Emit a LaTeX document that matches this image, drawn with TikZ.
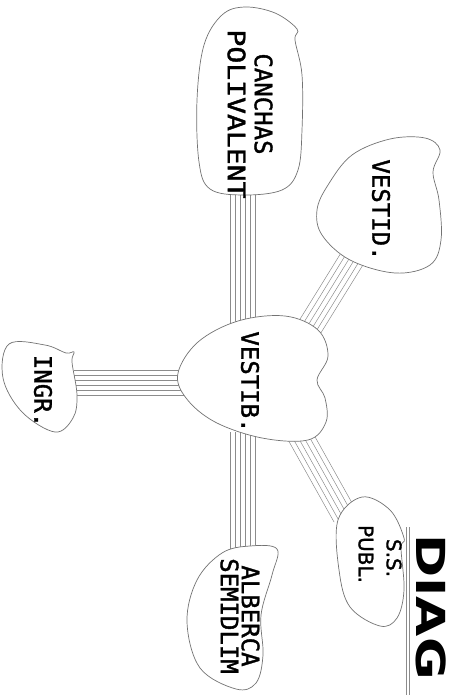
\documentclass[tikz,border=0pt]{standalone}
\usepackage{fontspec}
\usepackage{graphicx}
\setsansfont{DejaVu Sans}
\newfontfamily\plotfont{DejaVu Sans Mono}[FakeBold=1.5]
\newfontfamily\plotsans{DejaVu Sans}[FakeBold=1.5]
\usetikzlibrary{calc}
\tikzset{
  blob/.style={draw=black!55, fill=white, line width=0.7pt},
  wire/.style={draw=black!45, line width=0.5pt},
  lbl/.style={rotate=-90, inner sep=0pt, align=center, font=\plotfont\fontsize{24}{27}\selectfont},
}
\begin{document}
\begin{tikzpicture}[x=1pt,y=-1pt]
\useasboundingbox (0,0) rectangle (448,695);

\coordinate (canchasS) at (243,188);
\coordinate (vestibN) at (243,324);
\coordinate (vestibS) at (243,432);
\coordinate (albercaN) at (243,556);
\coordinate (ingrE) at (74,383);
\coordinate (vestibW) at (184,383);
\coordinate (vestibNE) at (308,330);
\coordinate (vestidSW) at (355,254);
\coordinate (vestibSE) at (298,432);
\coordinate (sspublNW) at (345,516);

\foreach \a/\b in {canchasS/vestibN, vestibS/albercaN, ingrE/vestibW, vestibNE/vestidSW, vestibSE/sspublNW}
  \foreach \o in {-12.5,-7.5,...,12.5}
    \draw[wire] ($(\a)!\o pt!90:(\b)$) -- ($(\b)!\o pt!-90:(\a)$);

\draw[blob] plot[smooth cycle, tension=0.6] coordinates {(245,7) (275,13) (297,29) (295,40) (302,75) (302,130) (298,170) (282,190) (243,195) (210,189) (199,162) (197,100) (204,45) (222,15)};
\draw[blob] plot[smooth cycle, tension=0.6] coordinates {(328,185) (352,155) (390,139) (425,138) (440,150) (433,172) (439,200) (441,240) (430,265) (395,273) (350,260) (322,235) (317,210)};
\draw[blob] plot[smooth cycle, tension=0.6] coordinates {(178,373) (198,342) (238,321) (285,316) (318,330) (328,356) (317,380) (325,398) (326,422) (308,440) (262,438) (215,422) (186,398)};
\draw[blob] plot[smooth cycle, tension=0.6] coordinates {(9,344) (45,345) (66,353) (74,352) (72,362) (77,395) (73,418) (55,432) (22,412) (3,378)};
\draw[blob] plot[smooth cycle, tension=0.6] coordinates {(338,520) (362,497) (390,510) (404,538) (401,548) (404,590) (397,618) (380,626) (350,607) (339,570)};
\draw[blob] plot[smooth cycle, tension=0.6] coordinates {(222,553) (250,546) (277,549) (272,575) (261,615) (263,655) (256,683) (236,689) (200,668) (187,622) (197,580)};

\node[lbl] (canchas) at (250,114) {CANCHAS\hspace*{20pt}\\\scalebox{1.17}[1]{POLIVALENT}};
\node[lbl] (vestid) at (381,210) {VESTID.};
\node[lbl] (vestib) at (250,382) {VESTIB.};
\node[lbl] (ingr) at (43,391) {INGR.};
\node[lbl, font=\plotsans\fontsize{20}{28}\selectfont] (sspubl) at (380,554) {\hspace*{8pt}S.S.\\PUBL.};
\node[lbl, font=\plotfont\fontsize{24}{21}\selectfont] (alberca) at (240,616) {ALBERCA\\SEMIDLIM};

\draw[wire] (406,527) -- (406,695);
\draw[wire] (409,527) -- (409,695);
\node[rotate=-90, xscale=1.3, anchor=west, inner sep=0pt, font=\sffamily\bfseries\fontsize{40}{40}\selectfont] (diag) at (431,534) {DIAG};
\end{tikzpicture}
\end{document}
